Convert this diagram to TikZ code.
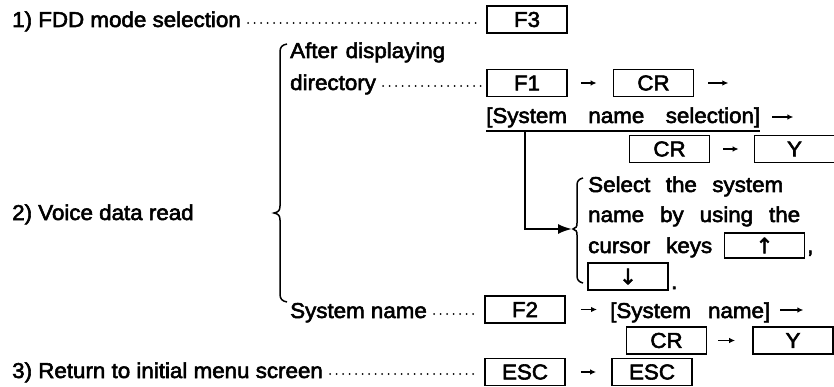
\documentclass[tikz,border=0pt]{standalone}
\usepackage{fontspec}
\setmainfont[FakeStretch=1.04,FakeBold=2.6]{Liberation Sans}
\newfontfamily\symfont[FakeBold=2]{DejaVu Sans}
\usetikzlibrary{arrows.meta,calc}

\begin{document}
\begin{tikzpicture}[x=1pt,y=-1pt,
  every node/.style={font=\fontsize{21.5}{25}\selectfont},
  txt/.style={anchor=base west,inner sep=0pt},
  keybox/.style={draw,line width=1.7pt,minimum width=80pt,minimum height=27pt,inner sep=0pt},
  dotline/.style={line width=2pt,line cap=round,dash pattern=on 0pt off 6.5pt},
  keyarrow/.style={line width=1.4pt,-{Latex[length=6pt,width=5.5pt]}},
  bigarrow/.style={line width=2pt,-{Latex[length=14pt,width=10pt]}},
  bracestyle/.style={line width=1.5pt}]
\useasboundingbox (0,0) rectangle (834,387);

% key boxes
\node[keybox] (f3)   at (527,19.5)  {F3};
\node[keybox] (f1)   at (527,83)    {F1};
\node[keybox] (cr1)  at (653.5,83)  {CR};
\node[keybox] (cra)  at (669.5,149) {CR};
\node[keybox] (ya)   at (794.5,149) {Y};
\node[keybox,minimum height=25pt] (up) at (764.5,245.5) {\symfont ↑};
\node[keybox] (down) at (628,276.5) {\symfont ↓};
\node[keybox] (f2)   at (525,309.5) {F2};
\node[keybox] (crb)  at (666.5,340.5) {CR};
\node[keybox] (yb)   at (793,340.5) {Y};
\node[keybox] (esc1) at (525,372)   {ESC};
\node[keybox] (esc2) at (652,372)   {ESC};

% text lines
\node[txt] (t1)   at (12,27)   {1) FDD mode selection};
\node[txt] (t2)   at (12,220)  {2) Voice data read};
\node[txt] (t3)   at (12,378)  {3) Return to initial menu screen};
\node[txt] (ad)   at (290,58)  {\makebox[155pt][s]{After displaying}};
\node[txt] (dir)  at (290,90)  {directory};
\node[txt] (sns)  at (486,123) {\makebox[274pt][s]{[System name selection]}};
\node[txt] (sel1) at (588,192) {\makebox[195pt][s]{Select the system}};
\node[txt] (sel2) at (588,222) {\makebox[212pt][s]{name by using the}};
\node[txt] (sel3) at (588,253) {\makebox[124pt][s]{cursor keys}};
\node[txt] (comma) at (807,253) {,};
\node[txt] (dot)  at (671,289) {.};
\node[txt] (sysn) at (290,318) {System name};
\node[txt] (sysb) at (610,318) {\makebox[160pt][s]{[System name]}};

% leader dots
\draw[dotline] ($(t1.base east)+(7,-4)$)   -- ($(f3.west|-t1.base)+(-5,-4)$);
\draw[dotline] ($(dir.base east)+(7,-4)$)  -- ($(f1.west|-dir.base)+(-5,-4)$);
\draw[dotline] ($(sysn.base east)+(7,-4)$) -- ($(f2.west|-sysn.base)+(-5,-4)$);
\draw[dotline] ($(t3.base east)+(7,-4)$)   -- ($(esc1.west|-t3.base)+(-5,-4)$);

% key sequence arrows
\draw[keyarrow,shorten <=13pt,shorten >=16pt] (f1) -- (cr1);
\draw[keyarrow,shorten <=14pt] (cr1.east) -- ++(34,0);
\draw[keyarrow] ($(sns.base east)+(12,-6)$) -- ++(21,0);
\draw[keyarrow,shorten <=13pt,shorten >=15pt] (cra) -- (ya);
\draw[keyarrow,shorten <=15pt,shorten >=13pt] (f2.east) -- (f2.east-|sysb.west);
\draw[keyarrow] ($(sysb.base east)+(10,-8)$) -- ++(23,0);
\draw[keyarrow,shorten <=11pt,shorten >=17pt] (crb) -- (yb);
\draw[keyarrow,shorten <=15pt,shorten >=15pt] (esc1) -- (esc2);

% underline and branch arrow into the cursor-key note
\coordinate (ulw) at ($(sns.base west)+(0,8)$);
\coordinate (ule) at ($(sns.base east)+(0,8)$);
\draw[line width=1.8pt] (ulw) -- (ule);
\coordinate (branch) at ($(ulw)+(39,0)$);
\coordinate (tip) at (572,229);
\draw[bigarrow] (branch) |- (tip);

% small brace
\draw[bracestyle] (583,178) .. controls (579,179) and (577,181) .. (577,185)
  -- (577,223) .. controls (577,227) and (576,228) .. (573,229)
  .. controls (576,230) and (577,231) .. (577,235)
  -- (577,276) .. controls (577,280) and (579,282) .. (583,283);

% large brace
\draw[bracestyle] (287,44) .. controls (282,45) and (280,47) .. (280,52)
  -- (280,206) .. controls (280,211) and (278,212) .. (274,213)
  .. controls (278,214) and (280,215) .. (280,220)
  -- (280,294) .. controls (280,299) and (282,301) .. (287,302);
\end{tikzpicture}
\end{document}
